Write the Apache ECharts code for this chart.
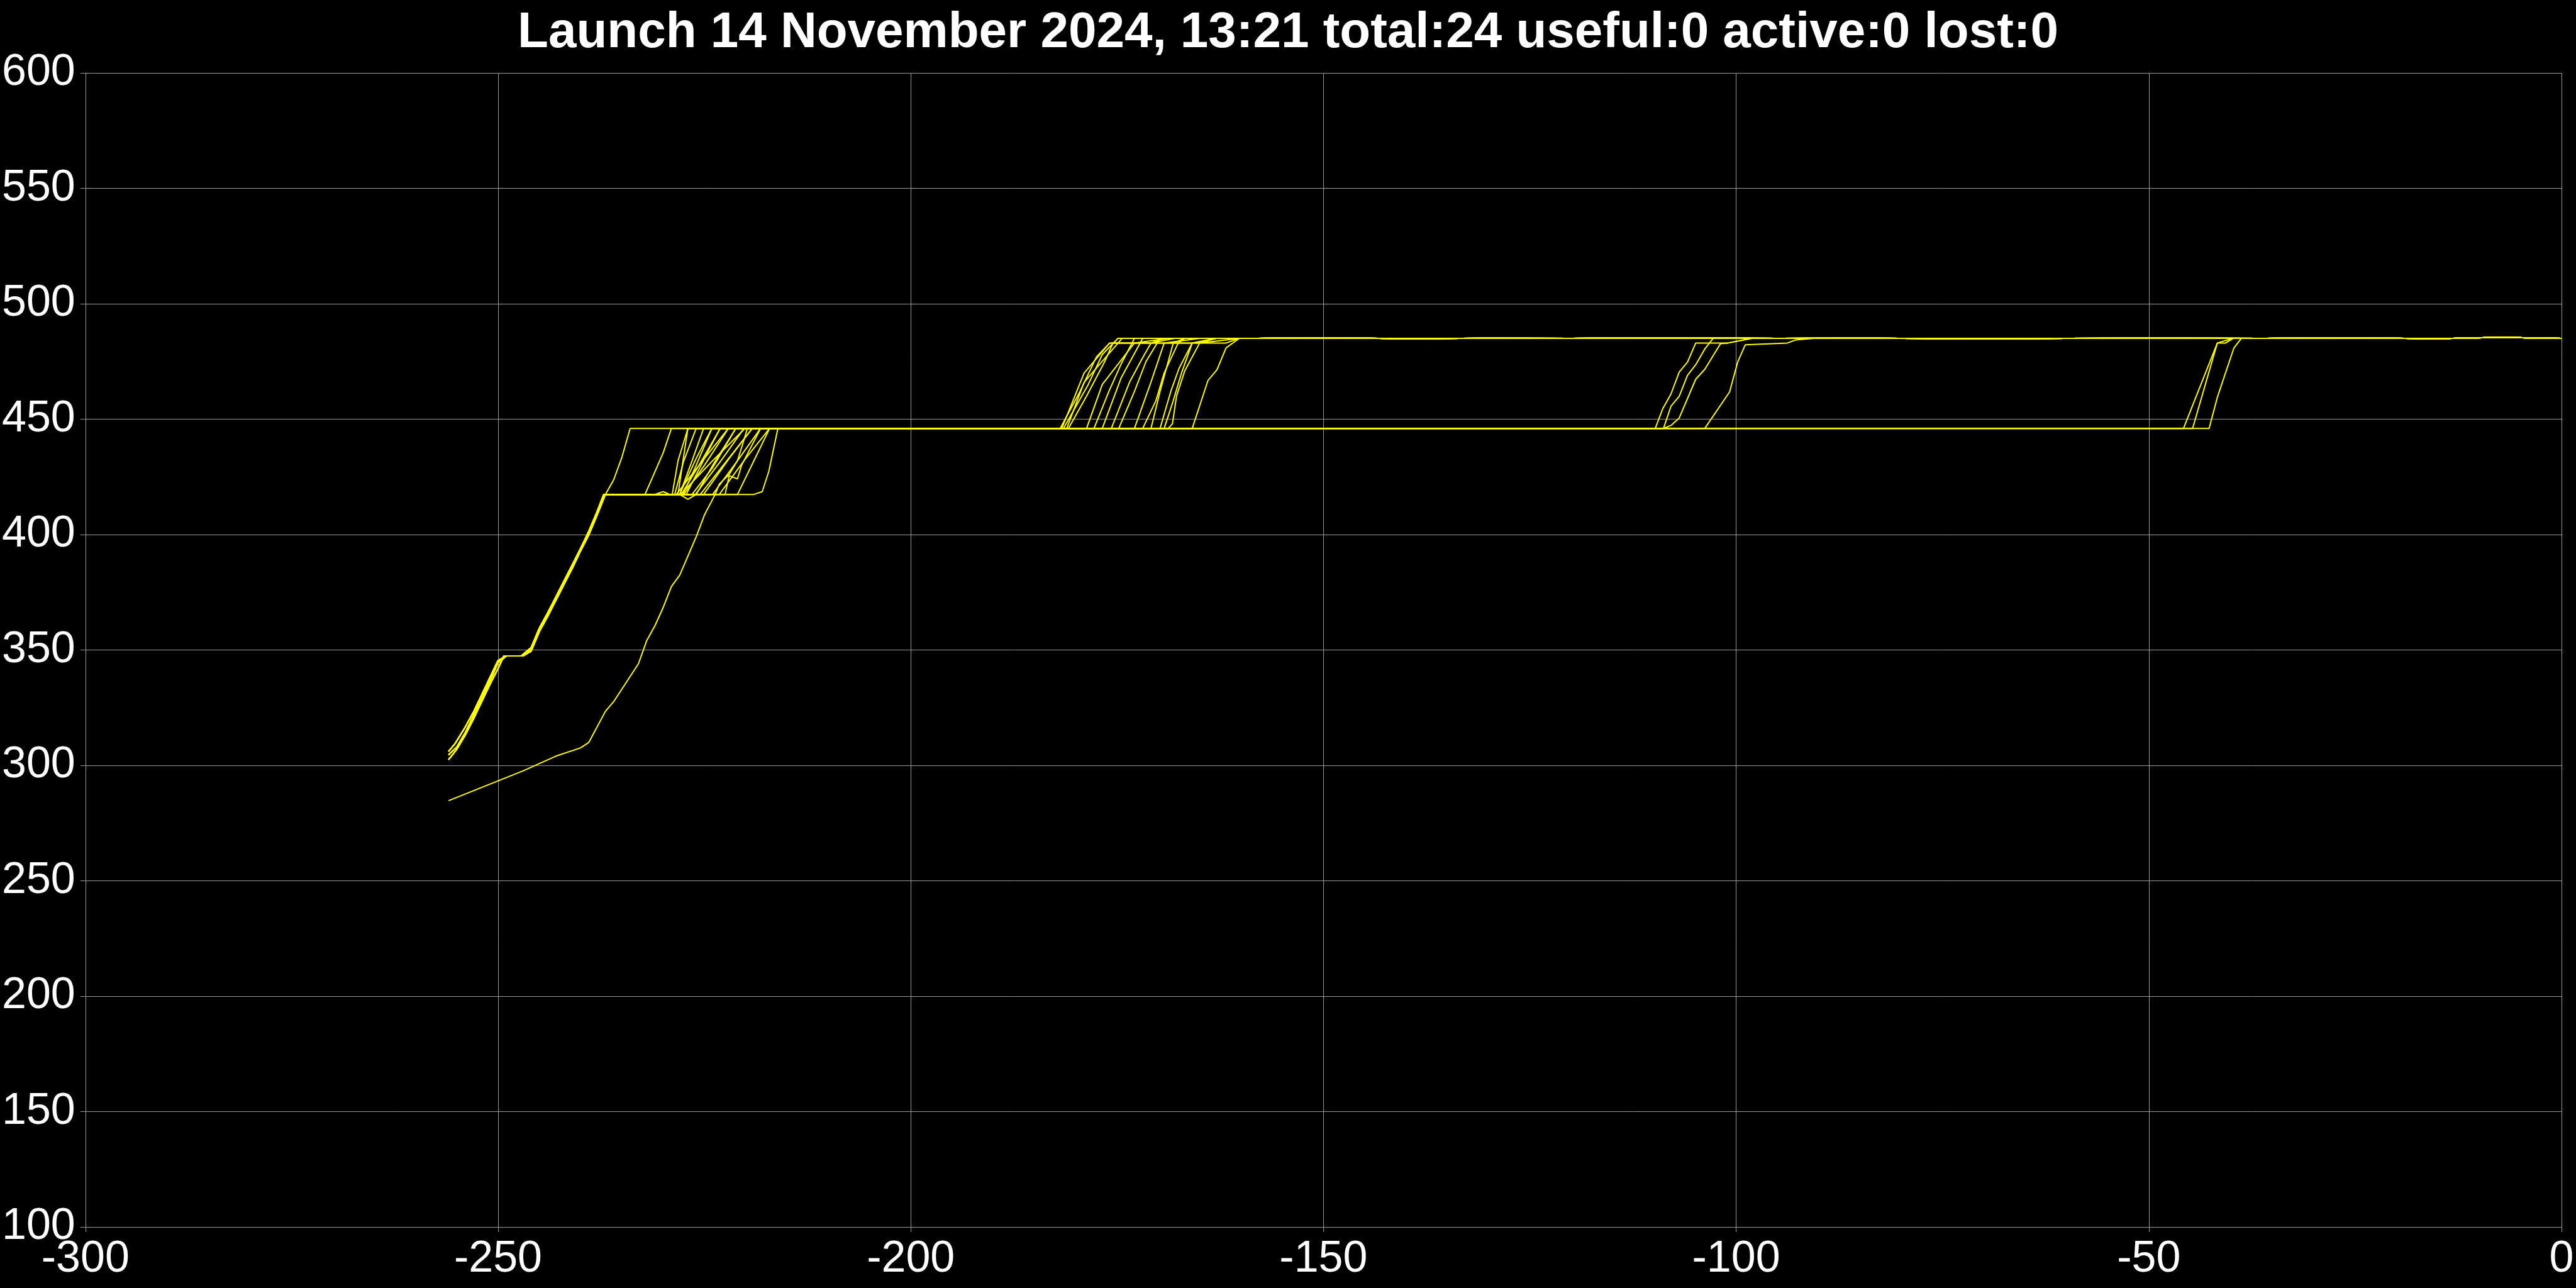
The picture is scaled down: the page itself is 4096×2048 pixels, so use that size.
<!DOCTYPE html>
<html><head><meta charset="utf-8">
<script src="https://cdn.jsdelivr.net/npm/echarts@6/dist/echarts.min.js"></script>
<style>html,body{margin:0;padding:0;background:#000;}#c{width:4096px;height:2048px;}</style>
</head><body><div id="c"></div>
<script>
const titleText = 'Launch 14 November 2024, 13:21 total:24 useful:0 active:0 lost:0';
const xTicks = [-300, 0, 50];   // min, max, step
const yTicks = [100, 600, 50];

// common climb paths (three slightly different variants)
const climbA = [[-256,304.5],[-255,308],[-254,314],[-253,321.5],[-252,329],[-251,336.5],[-250,344.5],[-249,347.4],[-247,347.4],[-246,350],[-245,359],[-244,365],[-243,372],[-242,379],[-241,386],[-240,393.5],[-239,400.6],[-238,409],[-237,417.4]];
const climbB = [[-256,302.5],[-255,307],[-254,313],[-253,320],[-252,327.5],[-251,335],[-250,342],[-249.3,347.4],[-247,347.4],[-246,349.5],[-245,358],[-244,364.5],[-243,371.5],[-242,378.5],[-241,385.5],[-240,393],[-239,400],[-238,408.5],[-237,417.4]];
const climbC = [[-256,306],[-255.2,309.5],[-254,316.5],[-253,323],[-252,330.5],[-251,338],[-250,345.5],[-249,347.4],[-247.2,347.4],[-246,351],[-245,359.5],[-244,366],[-243,373],[-242,380],[-241,387],[-240,394],[-239,401.5],[-238,410],[-237.2,417.4]];
const climbOf = [0,1,2,0,1,2,0,1,2,0,1,2,0,1,2,0,1,2,0,1,2,0,1];

// the one late object
const lowPath = [[-256,284.7],[-247,297.6],[-243,304],[-240,307.6],[-239,310],[-237,323.4],[-236,327.6],[-233,344],[-232,354],[-231,360.5],[-230,368.4],[-229,377.5],[-228,382.4],[-226,399],[-225,408.5],[-223.7,417.4],[-223.2,421.9],[-222,426],[-221,432],[-220.3,440],[-219.8,446]];

// 417 -> 446 transitions
const jump1 = [
 [[-236,423.7],[-235,433.5],[-234,446]],
 [[-232.2,417.4],[-230,435.4],[-229,446]],
 [[-228.9,417.4],[-228.2,432],[-227,446]],
 [[-228.2,417.4],[-227.6,432],[-227,446]],
 [[-228,417.4],[-226.5,432],[-225.1,446]],
 [[-228,417.4],[-226,433],[-224.1,446]],
 [[-227.8,417.4],[-225.5,431],[-223.1,446]],
 [[-227.5,417.4],[-225,430],[-222.1,446]],
 [[-231,417.4],[-230,418.6],[-229.2,417.4],[-227.9,417.4],[-224,432],[-220.1,446]],
 [[-228,417.4],[-227,415.3],[-226,417.4],[-224,430],[-221.2,446]],
 [[-226.1,417.4],[-223,432],[-220.2,446]],
 [[-225.1,417.4],[-222,433],[-219.2,446]],
 [[-224,417.4],[-221,432],[-218.2,446]],
 [[-223.2,417.4],[-220,433],[-217.1,446]],
 [[-222.5,417.4],[-222,425.5],[-221,424.1],[-220.5,430],[-218.2,446]],
 [[-221,417.4],[-219,432],[-217.1,446]],
 [[-219,417.4],[-218,418.6],[-217.2,427.4],[-216.1,446]],
 [[-228.4,417.4],[-225,433],[-222.1,446]],
 [[-227.6,417.4],[-226,430],[-224.1,446]],
 [[-226.5,417.4],[-224,429],[-221.2,446]],
 [[-225.5,417.4],[-222.5,431],[-219.2,446]],
 [[-228.6,417.4],[-227.5,432],[-226,446]],
 [[-227.2,417.4],[-225,433],[-223.1,446]]
];

// 446 -> 485 transitions (index 23 = late object)
const jump2 = [
 [[-181.9,446],[-179.5,462],[-177.5,477],[-175.9,483],[-170.9,483],[-169.3,485]],
 [[-181.7,446],[-179,470],[-175.9,483],[-165,483],[-163,485]],
 [[-109.8,446],[-108.9,454.5],[-107.9,460.9],[-106.9,470.4],[-105.9,474.7],[-104.9,483],[-101,483],[-98.1,485]],
 [[-181.5,446],[-178.5,465],[-176.8,478],[-174.9,485]],
 [[-181.1,446],[-179,466],[-174.4,485]],
 [[-45.8,446],[-41.7,483],[-39.8,485]],
 [[-180.9,446],[-178.7,460],[-176.5,475],[-175.5,483],[-161.8,483],[-160.2,485]],
 [[-178.7,446],[-176.8,465],[-172.9,483],[-168.8,485]],
 [[-108.8,446],[-107.9,455.6],[-106.9,459.9],[-105.9,469],[-104.9,473.6],[-103.8,480.4],[-102.8,485]],
 [[-176.8,446],[-174.5,468],[-171.9,485]],
 [[-175.7,446],[-173.5,466],[-172,476],[-170.9,483],[-168,485]],
 [[-44.7,446],[-41.7,483],[-40.7,483],[-39.8,485]],
 [[-174.8,446],[-172.9,462],[-171.5,475],[-169.8,485]],
 [[-172.9,446],[-171,465],[-169.3,483],[-165,485]],
 [[-108.8,446],[-107.9,447.3],[-106.9,450.5],[-104.9,467.3],[-103.8,471.6],[-101.9,482.7],[-101,483],[-98.1,485]],
 [[-171.9,446],[-170.3,458],[-169.3,470],[-167.6,483],[-166.8,485]],
 [[-170.9,446],[-169.8,462],[-168.2,483],[-166.8,485]],
 [[-42.7,446],[-41.7,459.5],[-39.7,480.8],[-38.8,485]],
 [[-169.8,446],[-168.5,462],[-167.5,472],[-165.9,483],[-163,485]],
 [[-103.8,446],[-100.8,461.8],[-99.8,474.9],[-98.9,482.2],[-93.8,483],[-92.8,484.3],[-90.6,485]],
 [[-169.3,446],[-168.2,458],[-167.2,470],[-165.9,483],[-163,485]],
 [[-168.8,446],[-168.3,448],[-167.8,460],[-166.8,471],[-165,483],[-160.2,485]],
 [[-165.9,446],[-164,466.7],[-162.9,471.4],[-161.8,480.9],[-160.2,485]],
 [[-177.8,446],[-176,462],[-174.5,474],[-172.9,485]]
];

// final level
const tail = [[-158,485],[-150,485.3],[-140,484.9],[-130,485.1],[-120,485],[-110,485.2],[-95,485],[-85,485.1],[-70,484.9],[-60,485],[-50,485.1],[-36,485],[-25,485.2],[-15,484.9],[-7,485.5],[-4,485.2],[0,485]];

const climbs = [climbA, climbB, climbC];
const seriesData = [];
for (let i = 0; i < 24; i++) {
  let pts = i < 23 ? climbs[climbOf[i]].concat(jump1[i]) : lowPath.slice();
  pts = pts.concat(jump2[i]);
  const lastX = pts[pts.length - 1][0];
  pts = pts.concat(tail.filter(p => p[0] > lastX));
  seriesData.push(pts);
}

const gridColor = '#999999';
const chart = echarts.init(document.getElementById('c'), null, {renderer: 'canvas'});
chart.setOption({
  animation: false,
  backgroundColor: '#000',
  title: {
    text: titleText, left: 'center', top: 8,
    textStyle: {color: '#fff', fontSize: 80, fontWeight: 'bold', fontFamily: 'Liberation Sans'}
  },
  grid: {left: 131, right: 23, top: 116, bottom: 97, containLabel: false},
  xAxis: {
    type: 'value', min: xTicks[0], max: xTicks[1], interval: xTicks[2],
    axisLine: {show: true, onZero: false, lineStyle: {color: gridColor, width: 1}},
    axisTick: {show: true, length: 8, lineStyle: {color: gridColor}},
    splitLine: {show: true, lineStyle: {color: gridColor, width: 1}},
    axisLabel: {color: '#fff', fontSize: 70, fontFamily: 'Liberation Sans', margin: 17, showMinLabel: true, showMaxLabel: true}
  },
  yAxis: {
    type: 'value', min: yTicks[0], max: yTicks[1], interval: yTicks[2],
    axisLine: {show: true, onZero: false, lineStyle: {color: gridColor, width: 1}},
    axisTick: {show: true, length: 8, lineStyle: {color: gridColor}},
    splitLine: {show: true, lineStyle: {color: gridColor, width: 1}},
    axisLabel: {color: '#fff', fontSize: 70, fontFamily: 'Liberation Sans', margin: 16, padding: [0,0,16,0], showMinLabel: true, showMaxLabel: true}
  },
  series: seriesData.map((d, i) => ({
    type: 'line', name: 'obj' + (i + 1), data: d, showSymbol: false, symbol: 'none',
    lineStyle: {color: '#ffff00', width: 2}, silent: true, z: 3
  }))
});
</script></body></html>
